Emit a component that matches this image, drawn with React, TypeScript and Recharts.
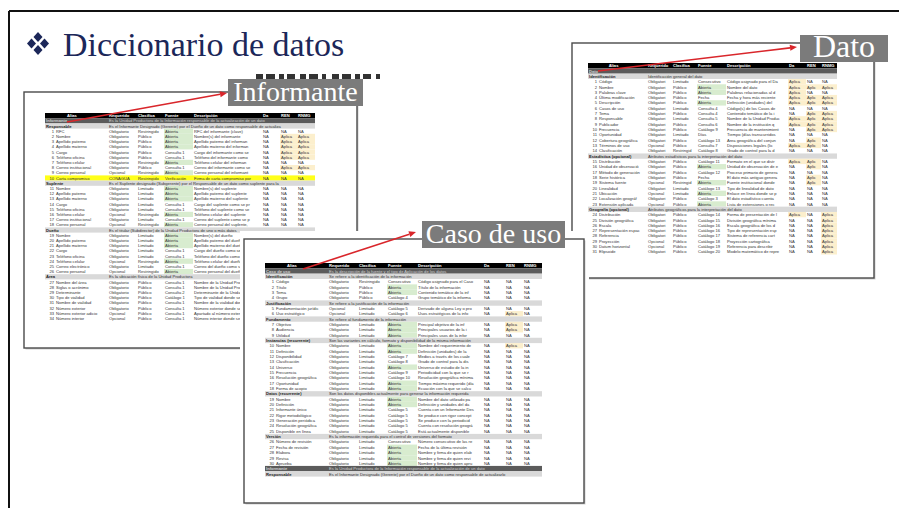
import React from 'react';
import { ComposedChart, Customized } from 'recharts';

// column headers shared by the three dictionary sheets
const headers = ['Alias', 'Requerido', 'Clasifica', 'Fuente', 'Descripción', 'Da', 'REN', 'RNMG'];

// kind: d = dark block, s = section, r = row, y = highlighted row
const informanteRows: string[][] = [
  ['d', 'Informante', 'Es la Unidad Productora de la Información responsable de la actualización de un dato'],
  ['s', 'Responsable', 'Es el Informante Designado (Gerente) por el Dueño de un dato como responsable de actualizarlo'],
  ['r', '1', 'RFC', 'Obligatorio', 'Restringido', 'Abierta', 'RFC del informante (clave)', 'NA', 'NA', 'NA'],
  ['r', '2', 'Nombre', 'Obligatorio', 'Público', 'Abierta', 'Nombre(s) del informante', 'NA', 'Aplica', 'Aplica'],
  ['r', '3', 'Apellido paterno', 'Obligatorio', 'Público', 'Abierta', 'Apellido paterno del informante', 'NA', 'Aplica', 'Aplica'],
  ['r', '4', 'Apellido materno', 'Obligatorio', 'Público', 'Abierta', 'Apellido materno del informante', 'NA', 'Aplica', 'Aplica'],
  ['r', '5', 'Cargo', 'Obligatorio', 'Público', 'Consulta 1', 'Cargo del informante como se presenta', 'NA', 'Aplica', 'Aplica'],
  ['r', '6', 'Teléfono oficina', 'Obligatorio', 'Público', 'Consulta 1', 'Teléfono del informante como se presenta', 'NA', 'Aplica', 'Aplica'],
  ['r', '7', 'Teléfono celular', 'Obligatorio', 'Restringido', 'Abierta', 'Teléfono celular del informante con lada', 'NA', 'NA', 'NA'],
  ['r', '8', 'Correo institucional', 'Obligatorio', 'Público', 'Consulta 1', 'Correo del informante como se presenta', 'NA', 'Aplica', 'Aplica'],
  ['r', '9', 'Correo personal', 'Opcional', 'Restringido', 'Abierta', 'Correo personal del informante, preferente', 'NA', 'NA', 'NA'],
  ['y', '10', 'Carta compromiso', 'CONAGUA', 'Restringido', 'Verificación', 'Firma de carta compromiso por parte', 'NA', 'NA', 'NA'],
  ['s', 'Suplente', 'Es el Suplente designado (Subgerente) por el Responsable de un dato como suplente para la actualización'],
  ['r', '11', 'Nombre', 'Obligatorio', 'Limitado', 'Abierta', 'Nombre(s) del suplente', 'NA', 'NA', 'NA'],
  ['r', '12', 'Apellido paterno', 'Obligatorio', 'Limitado', 'Abierta', 'Apellido paterno del suplente', 'NA', 'NA', 'NA'],
  ['r', '13', 'Apellido materno', 'Obligatorio', 'Limitado', 'Abierta', 'Apellido materno del suplente', 'NA', 'NA', 'NA'],
  ['r', '14', 'Cargo', 'Obligatorio', 'Limitado', 'Consulta 1', 'Cargo del suplente como se presenta', 'NA', 'NA', 'NA'],
  ['r', '15', 'Teléfono oficina', 'Obligatorio', 'Limitado', 'Consulta 1', 'Teléfono del suplente como se presenta', 'NA', 'NA', 'NA'],
  ['r', '16', 'Teléfono celular', 'Opcional', 'Restringido', 'Abierta', 'Teléfono celular del suplente con lada', 'NA', 'NA', 'NA'],
  ['r', '17', 'Correo institucional', 'Obligatorio', 'Limitado', 'Consulta 1', 'Correo del suplente como se presenta', 'NA', 'NA', 'NA'],
  ['r', '18', 'Correo personal', 'Opcional', 'Restringido', 'Abierta', 'Correo personal del suplente, preferente', 'NA', 'NA', 'NA'],
  ['s', 'Dueño', 'Es el titular (Subdirector) de la Unidad Productora de uno o más datos'],
  ['r', '19', 'Nombre', 'Obligatorio', 'Limitado', 'Abierta', 'Nombre(s) del dueño', 'NA', 'NA', 'NA'],
  ['r', '20', 'Apellido paterno', 'Obligatorio', 'Limitado', 'Abierta', 'Apellido paterno del dueño', 'NA', 'NA', 'NA'],
  ['r', '21', 'Apellido materno', 'Obligatorio', 'Limitado', 'Abierta', 'Apellido materno del dueño', 'NA', 'NA', 'NA'],
  ['r', '22', 'Cargo', 'Obligatorio', 'Limitado', 'Consulta 1', 'Cargo del dueño como se presenta', 'NA', 'NA', 'NA'],
  ['r', '23', 'Teléfono oficina', 'Obligatorio', 'Limitado', 'Consulta 1', 'Teléfono del dueño como se presenta', 'NA', 'NA', 'NA'],
  ['r', '24', 'Teléfono celular', 'Opcional', 'Restringido', 'Abierta', 'Teléfono celular del dueño con lada', 'NA', 'NA', 'NA'],
  ['r', '25', 'Correo electrónico', 'Obligatorio', 'Limitado', 'Consulta 1', 'Correo del dueño como se presenta', 'NA', 'NA', 'NA'],
  ['r', '26', 'Correo personal', 'Opcional', 'Restringido', 'Abierta', 'Correo personal del dueño, preferente', 'NA', 'NA', 'NA'],
  ['s', 'Área', 'Es la ubicación física de la Unidad Productora'],
  ['r', '27', 'Nombre del área', 'Obligatorio', 'Público', 'Consulta 1', 'Nombre de la Unidad Productora', 'NA', 'NA', 'NA'],
  ['r', '28', 'Siglas o acrónimo', 'Obligatorio', 'Público', 'Consulta 1', 'Nombre de la Unidad Productora', 'NA', 'NA', 'NA'],
  ['r', '29', 'Determinante', 'Obligatorio', 'Público', 'Consulta 2', 'Determinante de la Unidad', 'NA', 'NA', 'NA'],
  ['r', '30', 'Tipo de vialidad', 'Obligatorio', 'Público', 'Catálogo 1', 'Tipo de vialidad donde se ubica', 'NA', 'NA', 'NA'],
  ['r', '31', 'Nombre de vialidad', 'Obligatorio', 'Público', 'Consulta 1', 'Nombre de la vialidad donde', 'NA', 'NA', 'NA'],
  ['r', '32', 'Número exterior', 'Obligatorio', 'Público', 'Consulta 1', 'Número exterior donde se ubica', 'NA', 'NA', 'NA'],
  ['r', '33', 'Número exterior adicional', 'Opcional', 'Público', 'Consulta 1', 'Apartado al número exterior', 'NA', 'NA', 'NA'],
  ['r', '34', 'Número interior', 'Opcional', 'Público', 'Consulta 1', 'Número interior donde se ubica', 'NA', 'NA', 'NA'],
];

const casoRows: string[][] = [
  ['d', 'Caso de uso', 'Es la descripción de la fuente y el tipo de Aplicación de los datos'],
  ['s', 'Identificación', 'Se refiere a la identificación de la información'],
  ['r', '1', 'Código', 'Obligatorio', 'Restringido', 'Consecutivo', 'Código asignado para el Caso de Uso', 'NA', 'NA', 'NA'],
  ['r', '2', 'Título', 'Obligatorio', 'Público', 'Abierta', 'Título de la información', 'NA', 'NA', 'NA'],
  ['r', '3', 'Tema', 'Obligatorio', 'Público', 'Abierta', 'Contenido temático de la información', 'NA', 'NA', 'NA'],
  ['r', '4', 'Grupo', 'Obligatorio', 'Público', 'Catálogo 4', 'Grupo temático de la información', 'NA', 'NA', 'NA'],
  ['s', 'Justificación', 'Se refiere a la justificación de la información'],
  ['r', '5', 'Fundamentación jurídica', 'Opcional', 'Limitado', 'Catálogo 5', 'Derivado de alguna Ley o programa', 'NA', 'NA', 'NA'],
  ['r', '6', 'Uso estratégico', 'Opcional', 'Limitado', 'Catálogo 6', 'Usos estratégicos de la información', 'NA', 'Aplica', 'NA'],
  ['s', 'Fundamento', 'Se refiere al fundamento de la información'],
  ['r', '7', 'Objetivo', 'Obligatorio', 'Limitado', 'Abierta', 'Principal objetivo de la información', 'NA', 'Aplica', 'NA'],
  ['r', '8', 'Audiencia', 'Obligatorio', 'Limitado', 'Abierta', 'Principales usuarios de la información', 'NA', 'Aplica', 'NA'],
  ['r', '9', 'Utilidad', 'Obligatorio', 'Limitado', 'Abierta', 'Principales usos de la información', 'NA', 'NA', 'NA'],
  ['s', 'Instancias (recurrente)', 'Son las variantes en cálculo, formato y disponibilidad de la misma información'],
  ['r', '10', 'Nombre', 'Obligatorio', 'Limitado', 'Abierta', 'Nombre del requerimiento de información', 'NA', 'Aplica', 'NA'],
  ['r', '11', 'Definición', 'Obligatorio', 'Limitado', 'Abierta', 'Definición (unidades) de la instancia', 'NA', 'NA', 'NA'],
  ['r', '12', 'Disponibilidad', 'Obligatorio', 'Limitado', 'Catálogo 7', 'Medios a través de los cuales se requiere', 'NA', 'NA', 'NA'],
  ['r', '13', 'Clasificación', 'Obligatorio', 'Limitado', 'Catálogo 8', 'Grado de control para la disponibilidad', 'NA', 'NA', 'NA'],
  ['r', '14', 'Universo', 'Obligatorio', 'Limitado', 'Abierta', 'Universo de estudio de la información', 'NA', 'NA', 'NA'],
  ['r', '15', 'Frecuencia', 'Obligatorio', 'Limitado', 'Catálogo 9', 'Periodicidad con la que se requiere', 'NA', 'NA', 'NA'],
  ['r', '16', 'Resolución geográfica', 'Obligatorio', 'Limitado', 'Catálogo 10', 'Resolución geográfica mínima de la', 'NA', 'NA', 'NA'],
  ['r', '17', 'Oportunidad', 'Obligatorio', 'Limitado', 'Abierta', 'Tiempo máximo requerido (días) en', 'NA', 'NA', 'NA'],
  ['r', '18', 'Forma de acopio', 'Obligatorio', 'Limitado', 'Abierta', 'Ecuación con la que se calcula la', 'NA', 'NA', 'NA'],
  ['s', 'Datos (recurrente)', 'Son los datos disponibles actualmente para generar la información requerida'],
  ['r', '19', 'Nombre', 'Obligatorio', 'Limitado', 'Abierta', 'Nombre del dato utilizado para producir', 'NA', 'NA', 'NA'],
  ['r', '20', 'Definición', 'Obligatorio', 'Limitado', 'Abierta', 'Definición y unidades del dato utilizado', 'NA', 'NA', 'NA'],
  ['r', '21', 'Informante único', 'Obligatorio', 'Limitado', 'Catálogo 5', 'Cuenta con un Informante Designado', 'NA', 'NA', 'NA'],
  ['r', '22', 'Rigor metodológico', 'Obligatorio', 'Limitado', 'Catálogo 5', 'Se produce con rigor conceptual y', 'NA', 'NA', 'NA'],
  ['r', '23', 'Generación periódica', 'Obligatorio', 'Limitado', 'Catálogo 5', 'Se produce con la periodicidad requerida', 'NA', 'NA', 'NA'],
  ['r', '24', 'Resolución geográfica', 'Obligatorio', 'Limitado', 'Catálogo 5', 'Cuenta con resolución geográfica', 'NA', 'NA', 'NA'],
  ['r', '25', 'Disponible en línea', 'Obligatorio', 'Limitado', 'Catálogo 5', 'Está actualmente disponible para su', 'NA', 'NA', 'NA'],
  ['s', 'Versión', 'Es la información requerida para el control de versiones del formato'],
  ['r', '26', 'Número de revisión', 'Obligatorio', 'Limitado', 'Consecutivo', 'Número consecutivo de las revisiones', 'NA', 'NA', 'NA'],
  ['r', '27', 'Fecha de revisión', 'Obligatorio', 'Limitado', 'Abierta', 'Fecha de la última revisión realizada', 'NA', 'NA', 'NA'],
  ['r', '28', 'Elabora', 'Obligatorio', 'Limitado', 'Abierta', 'Nombre y firma de quien elaboró el', 'NA', 'NA', 'NA'],
  ['r', '29', 'Revisa', 'Obligatorio', 'Limitado', 'Abierta', 'Nombre y firma de quien revisa el', 'NA', 'NA', 'NA'],
  ['r', '30', 'Aprueba', 'Obligatorio', 'Limitado', 'Abierta', 'Nombre y firma de quien aprueba el', 'NA', 'NA', 'NA'],
  ['d', 'Informante', 'Es la Unidad Productora de la Información responsable de la actualización de un dato'],
  ['s', 'Responsable', 'Es el Informante Designado (Gerente) por el Dueño de un dato como responsable de actualizarlo'],
];

const datoRows: string[][] = [
  ['d', 'Dato', ''],
  ['s', 'Identificación', 'Identificación general del dato'],
  ['r', '1', 'Código', 'Obligatorio', 'Limitado', 'Consecutivo', 'Código asignado para el Dato', 'Aplica', 'NA', 'NA'],
  ['r', '2', 'Nombre', 'Obligatorio', 'Público', 'Abierta', 'Nombre del dato', 'Aplica', 'Aplica', 'Aplica'],
  ['r', '3', 'Palabras clave', 'Obligatorio', 'Público', 'Abierta', 'Palabras relacionadas al dato para facilitar', 'Aplica', 'NA', 'NA'],
  ['r', '4', 'Última modificación', 'Obligatorio', 'Público', 'Fecha', 'Fecha y hora más reciente de actualización', 'Aplica', 'Aplica', 'Aplica'],
  ['r', '5', 'Descripción', 'Obligatorio', 'Público', 'Abierta', 'Definición (unidades) del dato', 'Aplica', 'Aplica', 'Aplica'],
  ['r', '6', 'Casos de uso', 'Obligatorio', 'Limitado', 'Consulta 4', 'Código(s) de los Casos de Uso asociados', 'NA', 'NA', 'NA'],
  ['r', '7', 'Tema', 'Obligatorio', 'Público', 'Consulta 4', 'Contenido temático de la información', 'NA', 'Aplica', 'Aplica'],
  ['r', '8', 'Responsable', 'Obligatorio', 'Limitado', 'Consulta 5', 'Nombre de la Unidad Productora', 'Aplica', 'Aplica', 'Aplica'],
  ['r', '9', 'Publicador', 'Obligatorio', 'Público', 'Consulta 6', 'Nombre de la institución que publica', 'Aplica', 'Aplica', 'Aplica'],
  ['r', '10', 'Frecuencia', 'Obligatorio', 'Público', 'Catálogo 9', 'Frecuencia de mantenimiento y actualización', 'NA', 'Aplica', 'Aplica'],
  ['r', '11', 'Oportunidad', 'Obligatorio', 'Limitado', 'Días', 'Tiempo (días transcurridos) entre la', 'NA', 'NA', 'NA'],
  ['r', '12', 'Cobertura geográfica', 'Obligatorio', 'Público', 'Catálogo 13', 'Área geográfica del conjunto de datos', 'NA', 'Aplica', 'NA'],
  ['r', '13', 'Términos de uso', 'Opcional', 'Público', 'Consulta 7', 'Disposiciones legales (licencia) para', 'Aplica', 'Aplica', 'NA'],
  ['r', '14', 'Clasificación', 'Obligatorio', 'Restringido', 'Catálogo 8', 'Grado de control para la disponibilidad', 'NA', 'NA', 'NA'],
  ['s', 'Estadística (opcional)', 'Atributos estadísticos para la interpretación del dato'],
  ['r', '15', 'Distribución', 'Obligatorio', 'Público', 'Catálogo 11', 'Formato en el que se distribuye el dato', 'Aplica', 'Aplica', 'NA'],
  ['r', '16', 'Unidad de observación', 'Obligatorio', 'Público', 'Abierta', 'Unidad de observación de el elemento', 'NA', 'Aplica', 'NA'],
  ['r', '17', 'Método de generación', 'Obligatorio', 'Público', 'Catálogo 12', 'Proceso primario de generación del', 'NA', 'NA', 'NA'],
  ['r', '18', 'Serie histórica', 'Obligatorio', 'Público', 'Fecha', 'El dato más antiguo generado bajo', 'NA', 'Aplica', 'NA'],
  ['r', '19', 'Sistema fuente', 'Opcional', 'Restringido', 'Abierta', 'Fuente institucional donde se obtuvo', 'NA', 'Aplica', 'NA'],
  ['r', '20', 'Linealidad', 'Obligatorio', 'Limitado', 'Catálogo 13', 'Tipo de linealidad de datos', 'NA', 'NA', 'NA'],
  ['r', '21', 'Ubicación', 'Opcional', 'Limitado', 'Abierta', 'Enlace en línea donde se puede', 'NA', 'NA', 'NA'],
  ['r', '22', 'Localización geográfica', 'Obligatorio', 'Público', 'Catálogo 3', 'El dato estadístico cuenta con', 'NA', 'NA', 'NA'],
  ['r', '23', 'Extensión aplicada', 'Opcional', 'Público', 'Abierta', 'Lista de extensiones o recomendaciones', 'NA', 'NA', 'NA'],
  ['s', 'Geografía (opcional)', 'Atributos geográficos para la interpretación del dato'],
  ['r', '24', 'Distribución', 'Obligatorio', 'Público', 'Catálogo 14', 'Forma de presentación de los datos', 'Aplica', 'NA', 'Aplica'],
  ['r', '25', 'División geográfica', 'Obligatorio', 'Público', 'Catálogo 15', 'División geográfica mínima que cubre', 'NA', 'NA', 'Aplica'],
  ['r', '26', 'Escala', 'Obligatorio', 'Público', 'Catálogo 16', 'Escala geográfica de los datos', 'NA', 'NA', 'Aplica'],
  ['r', '27', 'Representación espacial', 'Obligatorio', 'Público', 'Catálogo 16', 'Tipo de representación espacial', 'NA', 'NA', 'Aplica'],
  ['r', '28', 'Referencia', 'Obligatorio', 'Público', 'Catálogo 17', 'Sistema de referencia cartográfica', 'NA', 'NA', 'Aplica'],
  ['r', '29', 'Proyección', 'Opcional', 'Público', 'Catálogo 18', 'Proyección cartográfica', 'NA', 'NA', 'Aplica'],
  ['r', '30', 'Datum horizontal', 'Opcional', 'Público', 'Catálogo 19', 'Referencia para describir un punto', 'NA', 'NA', 'Aplica'],
  ['r', '31', 'Elipsoide', 'Obligatorio', 'Público', 'Catálogo 20', 'Modelo matemático de representación', 'NA', 'NA', 'Aplica'],
];

const SANS = '"Liberation Sans", Arial, sans-serif';
const SERIF = '"Liberation Serif", "DejaVu Serif", serif';
const NAVY = '#1c2759';

// cut a cell text to what fits in its column, like a spreadsheet does
const fit = (s: string, w: number, fs: number) => {
  const max = Math.floor(w / (fs * 0.55));
  return s.length > max ? s.slice(0, max) : s;
};

function Sheet({ cols, top, rowH, rows }: { cols: number[]; top: number; rowH: number; rows: string[][] }) {
  const x0 = cols[0];
  const x1 = cols[cols.length - 1];
  const fs = 4.1;
  const bl = rowH * 0.8;
  const out: React.ReactNode[] = [];
  out.push(<rect key="hd" x={x0} y={top} width={x1 - x0} height={rowH} fill="#000" />);
  headers.forEach((h, i) => {
    const hx = i === 0 ? x0 + (cols[1] - x0) * 0.35 : cols[i] + 1;
    out.push(
      <text key={'h' + i} x={hx} y={top + bl} fontSize={fs} fill="#fff" fontWeight="bold">
        {h}
      </text>
    );
  });
  rows.forEach((r, k) => {
    const y = top + rowH * (k + 1);
    const base = y + bl;
    const kind = r[0];
    if (kind === 'd' || kind === 's') {
      const dark = kind === 'd';
      out.push(<rect key={'b' + k} x={x0} y={y} width={x1 - x0} height={rowH} fill={dark ? '#5b5b5b' : '#d9d9d9'} />);
      out.push(
        <text key={'a' + k} x={x0 + 1} y={base} fontSize={fs} fontWeight="bold" fill={dark ? '#d0d0d0' : '#222'}>
          {r[1]}
        </text>
      );
      out.push(
        <text key={'c' + k} x={cols[1] + 1} y={base} fontSize={fs} fill={dark ? '#d0d0d0' : '#333'}>
          {fit(r[2], x1 - cols[1] - 2, fs)}
        </text>
      );
      return;
    }
    if (kind === 'y') {
      out.push(<rect key={'y' + k} x={x0} y={y} width={x1 - x0} height={rowH} fill="#ffff1a" />);
    }
    if (r[5] === 'Abierta') {
      out.push(<rect key={'g' + k} x={cols[3]} y={y} width={cols[4] - cols[3]} height={rowH} fill="#d8eccf" />);
    }
    [7, 8, 9].forEach((j) => {
      if (r[j] === 'Aplica') {
        const c = j - 2;
        out.push(<rect key={'p' + k + j} x={cols[c]} y={y} width={cols[c + 1] - cols[c]} height={rowH} fill="#fcefcd" />);
      }
    });
    out.push(
      <text key={'n' + k} x={x0 + 9} y={base} fontSize={fs} fill="#333" textAnchor="end">
        {r[1]}
      </text>
    );
    out.push(
      <text key={'al' + k} x={x0 + 11} y={base} fontSize={fs} fill="#333">
        {fit(r[2], cols[1] - x0 - 12, fs)}
      </text>
    );
    [3, 4, 5, 6, 7, 8, 9].forEach((j) => {
      const c = j - 2;
      out.push(
        <text key={'t' + k + j} x={cols[c] + 1} y={base} fontSize={fs} fill="#333">
          {fit(r[j], cols[c + 1] - cols[c] - 1.5, fs)}
        </text>
      );
    });
  });
  return <g fontFamily={SANS}>{out}</g>;
}

function Frame({ x, y, w, h }: { x: number; y: number; w: number; h: number }) {
  return (
    <g>
      <rect x={x + 1.5} y={y + 1.5} width={w} height={h} fill="#cfcfcf" />
      <rect x={x} y={y} width={w} height={h} fill="#fff" stroke="#4a4a4a" strokeWidth={1.4} />
    </g>
  );
}

function Tag({ x, y, w, h, label, fs = 28 }: { x: number; y: number; w: number; h: number; label: string; fs?: number }) {
  return (
    <g>
      <rect x={x} y={y} width={w} height={h} fill="#7b7b7b" />
      <text x={x + w / 2} y={y + h * 0.82} textAnchor="middle" fontFamily={SERIF} fontSize={fs} fill="#fff">
        {label}
      </text>
    </g>
  );
}

function Arrow({ x1, y1, x2, y2 }: { x1: number; y1: number; x2: number; y2: number }) {
  const a = Math.atan2(y2 - y1, x2 - x1);
  const L = 7;
  const W = 3;
  const bx = x2 - L * Math.cos(a);
  const by = y2 - L * Math.sin(a);
  const px = -Math.sin(a) * W;
  const py = Math.cos(a) * W;
  return (
    <g>
      <line x1={x1} y1={y1} x2={bx} y2={by} stroke="#d9262b" strokeWidth={1.6} />
      <polygon points={`${x2},${y2} ${bx + px},${by + py} ${bx - px},${by - py}`} fill="#d9262b" />
    </g>
  );
}

function Slide() {
  return (
    <g>
      <rect x={0} y={0} width={899} height={508} fill="#fff" />
      {/* slide border */}
      <line x1={9} y1={11} x2={899} y2={11} stroke="#111" strokeWidth={2} />
      <line x1={9} y1={11} x2={9} y2={508} stroke="#111" strokeWidth={2} />

      {/* title */}
      <g fill={NAVY}>
        <polygon points="38,32 42.5,37 38,42 33.5,37" />
        <polygon points="38,45 42.5,50 38,55 33.5,50" />
        <polygon points="31.5,38.5 36,43.5 31.5,48.5 27,43.5" />
        <polygon points="44.5,38.5 49,43.5 44.5,48.5 40,43.5" />
      </g>
      <text x={63} y={56} fontFamily={SERIF} fontSize={34} fill={NAVY}>
        Diccionario de datos
      </text>

      {/* Informante */}
      <Frame x={24} y={92} w={333} h={256} />
      <Sheet cols={[45, 108, 137, 164, 193, 262, 280, 297, 315]} top={113} rowH={5.2} rows={informanteRows} />
      {/* tops of an older heading peeking out above the tag */}
      <line x1={256} y1={76.5} x2={380} y2={76.5} stroke="#333" strokeWidth={5} strokeDasharray="7 3 9 4 5 3 8 5 6 3 9 4 4 6" />
      <Tag x={228} y={79} w={135} h={27} label="Informante" />
      <Arrow x1={67} y1={122} x2={227} y2={93} />

      {/* Dato */}
      <Frame x={572} y={43} w={302} h={235} />
      <Sheet cols={[588, 647, 672, 697, 726, 788, 806, 821, 837]} top={63} rowH={5.32} rows={datoRows} />
      <Tag x={800} y={35} w={88} h={27} label="Dato" fs={32} />
      <Arrow x1={598} y1={71} x2={797} y2={47} />

      {/* Caso de uso */}
      <rect x={240} y={231} width={349} height={277} fill="#fff" />
      <Frame x={244} y={239} w={340} h={264} />
      <Sheet cols={[265, 328, 358, 387, 417, 483, 505, 523, 542]} top={263} rowH={5.34} rows={casoRows} />
      <Tag x={422} y={221} w={143} h={27} label="Caso de uso" />
      <Arrow x1={303} y1={269} x2={416} y2={232} />
    </g>
  );
}

export default function App() {
  return (
    <div style={{ position: 'absolute', left: 0, top: 0, width: 899, height: 508, background: '#fff' }}>
      <ComposedChart width={899} height={508} margin={{ top: 0, right: 0, bottom: 0, left: 0 }} data={[{ v: 0 }]}>
        <Customized component={Slide} />
      </ComposedChart>
    </div>
  );
}
